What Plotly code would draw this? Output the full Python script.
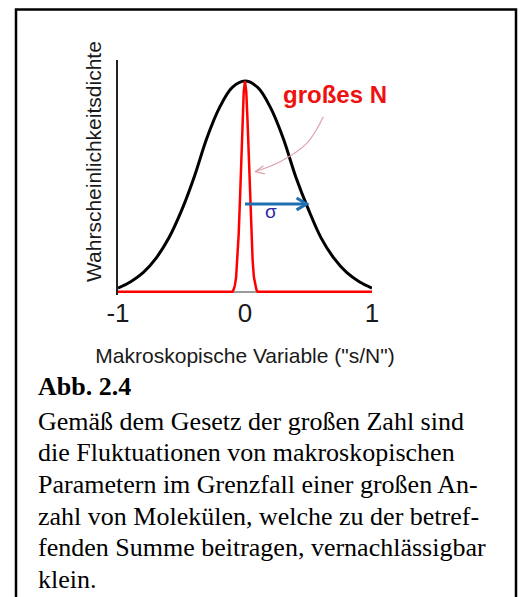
import plotly.graph_objects as go

# Broad distribution (few molecules), relative probability density vs s/N
wide_x = [-1.0, -0.9, -0.8, -0.7, -0.6, -0.5, -0.4, -0.3, -0.2, -0.1, 0.0,
          0.1, 0.2, 0.3, 0.4, 0.5, 0.6, 0.7, 0.8, 0.9, 1.0]
wide_y = [0.018, 0.048, 0.092, 0.16, 0.255, 0.385, 0.545, 0.73, 0.875, 0.97, 1.0,
          0.97, 0.875, 0.73, 0.545, 0.39, 0.255, 0.16, 0.092, 0.048, 0.018]

# Sharp distribution (large N)
narrow_x = [-1.0, -0.1, -0.09, -0.08, -0.07, -0.06, -0.05, -0.04, -0.03, -0.02, -0.01, 0.0,
            0.01, 0.02, 0.03, 0.04, 0.05, 0.06, 0.07, 0.08, 0.09, 0.1, 1.0]
narrow_y = [0.0, 0.0, 0.01, 0.03, 0.07, 0.15, 0.27, 0.43, 0.62, 0.81, 0.95, 1.0,
            0.95, 0.81, 0.62, 0.43, 0.27, 0.15, 0.07, 0.03, 0.01, 0.0, 0.0]

tick_vals = [-1, 0, 1]
tick_text = ["-1", "0", "1"]

x_title = 'Makroskopische Variable ("s/N")'
y_title = "Wahrscheinlichkeitsdichte"
big_n_label = "großes N"
sigma_label = "σ"
sigma_width = 0.486
sigma_level = 0.417

caption_head = "Abb. 2.4"
caption_lines = [
    "Gemäß dem Gesetz der großen Zahl sind",
    "die Fluktuationen von makroskopischen",
    "Parametern im Grenzfall einer großen An-",
    "zahl von Molekülen, welche zu der betref-",
    "fenden Summe beitragen, vernachlässigbar",
    "klein.",
]

# figure geometry (pixels)
W, H = 523, 597
ML, MR, MT, MB = 118, 151, 60, 302
PW, PH = W - ML - MR, H - MT - MB


def px(xp):
    return (xp - ML) / PW


def py(yp):
    return (H - MB - yp) / PH


SANS = "Liberation Sans, Arial, sans-serif"
SERIF = "Liberation Serif, Times New Roman, serif"

fig = go.Figure()

fig.add_trace(go.Scatter(x=wide_x, y=wide_y, mode="lines",
                         line=dict(color="#000000", width=3, shape="spline", smoothing=1.0),
                         hoverinfo="skip"))
fig.add_trace(go.Scatter(x=narrow_x, y=narrow_y, mode="lines",
                         line=dict(color="#ff0000", width=2.5),
                         hoverinfo="skip"))

# sigma arrow
blue = "#1f6fb2"
fig.add_trace(go.Scatter(x=[0, sigma_width], y=[sigma_level, sigma_level], mode="lines",
                         line=dict(color=blue, width=3), hoverinfo="skip"))
fig.add_trace(go.Scatter(x=[sigma_width - 0.08, sigma_width, sigma_width - 0.08],
                         y=[sigma_level + 0.028, sigma_level, sigma_level - 0.028],
                         mode="lines", line=dict(color=blue, width=3), hoverinfo="skip"))

# thin pointer from the "großes N" label to the narrow peak
pink = "#dca3ad"
fig.add_trace(go.Scatter(x=[0.617, 0.486, 0.276, 0.079], y=[0.831, 0.704, 0.617, 0.570],
                         mode="lines", line=dict(color=pink, width=1.2, shape="spline"),
                         hoverinfo="skip"))
fig.add_trace(go.Scatter(x=[0.145, 0.079, 0.157], y=[0.598, 0.570, 0.560],
                         mode="lines", line=dict(color=pink, width=1.2), hoverinfo="skip"))

annotations = [
    dict(text=y_title, xref="paper", yref="paper", x=px(93), y=py(162),
         textangle=-90, showarrow=False, xanchor="center", yanchor="middle",
         font=dict(family=SANS, size=21, color="#1a1a1a")),
    dict(text=f"<b>{big_n_label}</b>", xref="x", yref="y", x=0.709, y=0.936,
         showarrow=False, xanchor="center", yanchor="middle",
         font=dict(family=SANS, size=24, color="#ee1111")),
    dict(text=sigma_label, xref="x", yref="y", x=0.205, y=0.38,
         showarrow=False, xanchor="center", yanchor="middle",
         font=dict(family=SANS, size=19, color="#2b2ba6")),
    dict(text=f"<b>{caption_head}</b>", xref="paper", yref="paper", x=px(36), y=py(386.5),
         showarrow=False, xanchor="left", yanchor="middle",
         font=dict(family=SERIF, size=26, color="#000000")),
]
for i, line in enumerate(caption_lines):
    annotations.append(dict(text=line, xref="paper", yref="paper", x=px(36),
                            y=py(421.2 + i * 31.67), showarrow=False,
                            xanchor="left", yanchor="middle",
                            font=dict(family=SERIF, size=26, color="#000000")))

fig.update_layout(
    width=W, height=H,
    margin=dict(l=ML, r=MR, t=MT, b=MB, pad=0),
    paper_bgcolor="white", plot_bgcolor="white",
    showlegend=False,
    annotations=annotations,
    shapes=[
        dict(type="path", xref="paper", yref="paper",
             path=f"M {px(16)},{py(610)} L {px(16)},{py(9.5)} L {px(516)},{py(9.5)} L {px(516)},{py(610)}",
             line=dict(color="#000000", width=2.5)),
    ],
    xaxis=dict(range=[-1, 1], tickvals=tick_vals, ticktext=tick_text,
               showgrid=False, zeroline=False, showline=False, ticks="",
               tickfont=dict(family=SANS, size=26, color="#1a1a1a"),
               title=dict(text=x_title, standoff=21,
                          font=dict(family=SANS, size=21, color="#1a1a1a")),
               fixedrange=True),
    yaxis=dict(range=[-0.015, 1.1], showticklabels=False, ticks="",
               showgrid=False, zeroline=True, zerolinecolor="#9a9a9a", zerolinewidth=2,
               showline=True, linecolor="#222222", linewidth=1.5, fixedrange=True),
)

fig.write_html("out.html", config={"displayModeBar": False})
